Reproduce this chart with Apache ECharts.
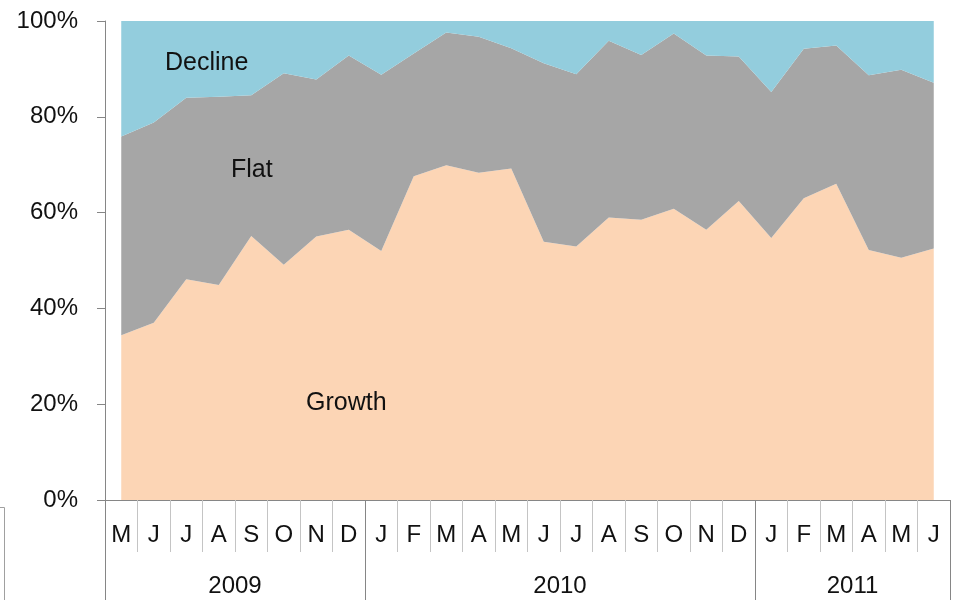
<!DOCTYPE html>
<html>
<head>
<meta charset="utf-8">
<script src="https://cdn.jsdelivr.net/npm/echarts@6/dist/echarts.min.js"></script>
<style>
  html, body { margin: 0; padding: 0; background: #fff; }
  #main { width: 954px; height: 600px; }
</style>
</head>
<body>
<div id="main"></div>
<script>
// months May 2009 .. June 2011
var months = ['M','J','J','A','S','O','N','D','J','F','M','A','M','J','J','A','S','O','N','D','J','F','M','A','M','J'];
var years = ['2009', '2010', '2011'];
var yearCounts = [8, 12, 6];

// shares in %
var growth = [34.4, 37.0, 46.1, 44.9, 55.1, 49.1, 55.0, 56.4, 52.0, 67.6, 69.9, 68.3, 69.2,
  53.9, 52.9, 59.0, 58.5, 60.8, 56.4, 62.4, 54.7, 63.0, 66.0, 52.2, 50.6, 52.5];
var flat = [41.5, 41.8, 37.9, 39.3, 29.4, 40.0, 32.8, 36.4, 36.8, 25.6, 27.7, 28.4, 25.1,
  37.3, 36.0, 36.9, 34.4, 36.6, 36.4, 30.2, 30.5, 31.2, 28.9, 36.5, 39.2, 34.6];
var decline = [24.1, 21.2, 16.0, 15.8, 15.5, 10.9, 12.2, 7.2, 11.2, 6.8, 2.4, 3.3, 5.7,
  8.8, 11.1, 4.1, 7.1, 2.6, 7.2, 7.4, 14.8, 5.8, 5.1, 11.3, 10.2, 12.9];
var yTicks = [0, 20, 40, 60, 80, 100];

// year group boundaries and centres, in band units
var bounds = [0];
var centres = [];
yearCounts.forEach(function (c) {
  var start = bounds[bounds.length - 1];
  centres.push(start + c / 2);
  bounds.push(start + c);
});

var font = 'Liberation Sans';
var axisGray = '#868686';

var chart = echarts.init(document.getElementById('main'));

function areaSeries(name, data, color) {
  return {
    name: name,
    type: 'line',
    stack: 'total',
    data: data,
    showSymbol: false,
    symbol: 'none',
    lineStyle: { width: 0 },
    areaStyle: { color: color, opacity: 1 },
    itemStyle: { color: color },
    emphasis: { disabled: true },
    silent: true
  };
}

var option = {
  animation: false,
  textStyle: { fontFamily: font },
  grid: { left: 105, right: 4, top: 21, bottom: 100, containLabel: false },
  xAxis: [{
    type: 'category',
    data: months,
    boundaryGap: true,
    axisLine: { show: true, lineStyle: { color: axisGray, width: 1 } },
    axisTick: { show: true, interval: 0, length: 52, lineStyle: { color: '#c4c4c4' } },
    axisLabel: { interval: 0, margin: 23, fontSize: 24, color: '#111', fontFamily: font },
    splitLine: { show: false }
  }, {
    type: 'value',
    position: 'bottom',
    min: 0,
    max: months.length,
    axisLine: { show: false },
    splitLine: { show: false },
    axisTick: { show: true, customValues: bounds, length: 100, lineStyle: { color: axisGray } },
    axisLabel: {
      customValues: centres,
      margin: 74,
      fontSize: 24,
      color: '#111',
      fontFamily: font,
      formatter: function (v) {
        var i = centres.indexOf(v);
        return i >= 0 ? years[i] : '';
      }
    }
  }],
  yAxis: {
    type: 'value',
    min: yTicks[0],
    max: yTicks[yTicks.length - 1],
    interval: 20,
    axisLine: { show: true, lineStyle: { color: axisGray } },
    axisTick: { show: true, length: 8, lineStyle: { color: axisGray } },
    axisLabel: { formatter: '{value}%', fontSize: 24, color: '#111', margin: 27, fontFamily: font },
    splitLine: { show: false }
  },
  series: [
    areaSeries('Growth', growth, '#FCD5B5'),
    areaSeries('Flat', flat, '#A6A6A6'),
    areaSeries('Decline', decline, '#93CDDD')
  ],
  graphic: [
    { type: 'text', z: 100, left: 165, top: 51, style: { text: 'Decline', font: '25px "Liberation Sans"', fill: '#111' } },
    { type: 'text', z: 100, left: 231, top: 158, style: { text: 'Flat', font: '25px "Liberation Sans"', fill: '#111' } },
    { type: 'text', z: 100, left: 306, top: 391, style: { text: 'Growth', font: '25px "Liberation Sans"', fill: '#111' } },
    { type: 'polyline', z: 100, shape: { points: [[0, 507.5], [4.5, 507.5], [4.5, 600]] }, style: { stroke: '#a0a0a0', fill: null, lineWidth: 1 } }
  ]
};

chart.setOption(option);
</script>
</body>
</html>
